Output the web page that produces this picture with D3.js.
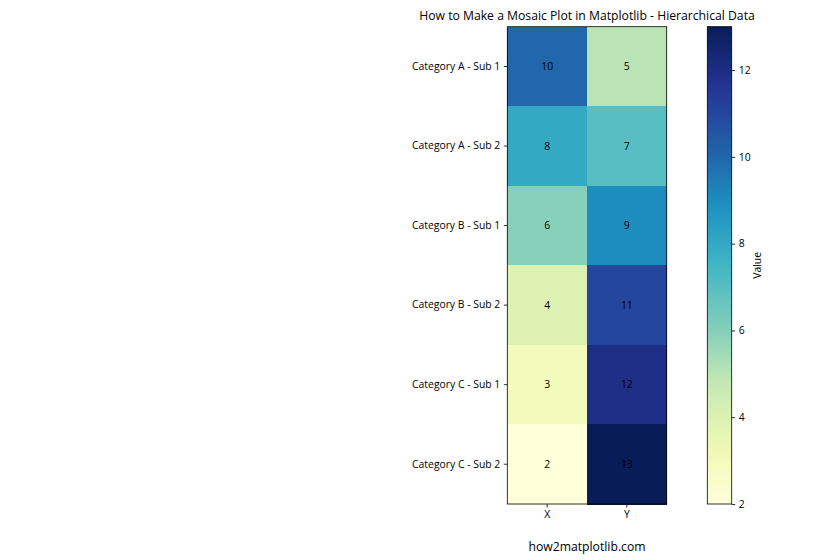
<!DOCTYPE html>
<html><head><meta charset="utf-8">
<script src="https://cdn.jsdelivr.net/npm/d3@7"></script>
<style>body{margin:0;background:#fff}svg{display:block}text{font-family:"Open Sans","Noto Sans",sans-serif;fill:#000}</style>
</head><body><svg id="c" width="840" height="560"></svg>
<script>
const rows = ["Category A - Sub 1","Category A - Sub 2","Category B - Sub 1","Category B - Sub 2","Category C - Sub 1","Category C - Sub 2"];
const cols = ["X","Y"];
const valuesX = [10,8,6,4,3,2];
const valuesY = [5,7,9,11,12,13];
const cbTicks = [2,4,6,8,10,12];
const title = "How to Make a Mosaic Plot in Matplotlib - Hierarchical Data";

const svg = d3.select("#c");
const L=507.3, R=666.7, T=26.7, B=504;
const FS = 10.4;
const x = d3.scaleBand().domain(cols).range([L,R]);
const y = d3.scaleBand().domain(rows).range([T,B]);
const stops = ["#ffffd9","#edf8b1","#c7e9b4","#7fcdbb","#41b6c4","#1d91c0","#225ea8","#253494","#081d58"];
const vmin = 2, vmax = 13;
const cmap = d3.scaleLinear().domain(d3.range(9).map(i=>i/8)).range(stops).interpolate(d3.interpolateRgb);
const color = v => cmap((v-vmin)/(vmax-vmin));

const cells = [];
rows.forEach((r,i)=>{cells.push({r,c:"X",v:valuesX[i]});cells.push({r,c:"Y",v:valuesY[i]});});
svg.selectAll("rect.cell").data(cells).join("rect").attr("class","cell")
 .attr("x",d=>x(d.c)).attr("y",d=>y(d.r)).attr("width",x.bandwidth()+0.5).attr("height",y.bandwidth()+0.5)
 .attr("fill",d=>color(d.v)).attr("shape-rendering","crispEdges");
svg.selectAll("text.ann").data(cells).join("text").attr("class","ann")
 .attr("x",d=>x(d.c)+x.bandwidth()/2).attr("y",d=>y(d.r)+y.bandwidth()/2).attr("dy","0.35em")
 .attr("text-anchor","middle").attr("font-size",FS).text(d=>d.v);
svg.append("rect").attr("x",L).attr("y",T).attr("width",R-L).attr("height",B-T).attr("fill","none").attr("stroke","#000").attr("stroke-width",0.8);

const ya = svg.append("g").attr("transform",`translate(${L},0)`).call(d3.axisLeft(y).tickSize(3.5).tickPadding(3.5));
const xa = svg.append("g").attr("transform",`translate(0,${B})`).call(d3.axisBottom(x).tickSize(3.5).tickPadding(3.5));
[ya,xa].forEach(a=>{a.select(".domain").remove();a.selectAll("text").attr("font-size",FS).style("font-family",'"Open Sans","Noto Sans",sans-serif');a.selectAll("line").attr("stroke","#000").attr("stroke-width",0.8);});

// colorbar
const cL=707.3, cW=24.4;
const cy = d3.scaleLinear().domain([vmin,vmax]).range([B,T]);
const defs = svg.append("defs");
const g = defs.append("linearGradient").attr("id","cb").attr("x1",0).attr("y1",1).attr("x2",0).attr("y2",0);
d3.range(0,1.0001,0.02).forEach(t=>g.append("stop").attr("offset",t).attr("stop-color",cmap(t)));
svg.append("rect").attr("x",cL).attr("y",T).attr("width",cW).attr("height",B-T).attr("fill","url(#cb)").attr("stroke","#000").attr("stroke-width",0.8);
const ca = svg.append("g").attr("transform",`translate(${cL+cW},0)`).call(d3.axisRight(cy).tickValues(cbTicks).tickSize(3.5).tickPadding(3.5));
ca.select(".domain").remove();
ca.selectAll("text").attr("font-size",FS).style("font-family",'"Open Sans","Noto Sans",sans-serif');
ca.selectAll("line").attr("stroke","#000").attr("stroke-width",0.8);
svg.append("text").attr("transform",`translate(761,${(T+B)/2}) rotate(-90)`).attr("text-anchor","middle").attr("font-size",FS).text("Value");

svg.append("text").attr("x",(L+R)/2).attr("y",20).attr("text-anchor","middle").attr("font-size",12.2).text(title);
svg.append("text").attr("x",(L+R)/2).attr("y",551).attr("text-anchor","middle").attr("font-size",12.2).text("how2matplotlib.com");
</script></body></html>
